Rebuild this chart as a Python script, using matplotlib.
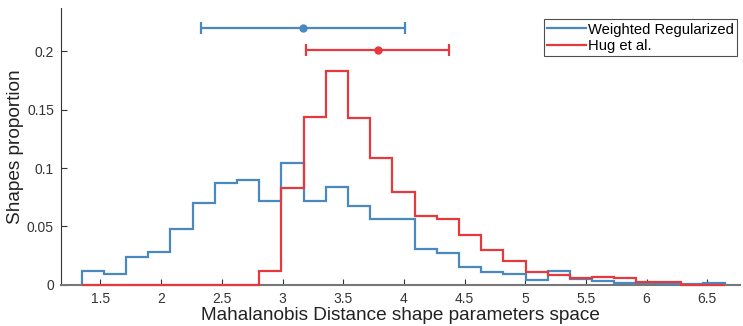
import numpy as np
import matplotlib.pyplot as plt

plt.rcParams['font.family'] = ['Liberation Sans', 'DejaVu Sans']

# histogram bin edges (shared by both series)
edges = np.linspace(1.345, 6.648, 30)

# Weighted Regularized
blue_vals = [0.0122, 0.0094, 0.0242, 0.0282, 0.0481, 0.0698, 0.0869, 0.0895, 0.0720, 0.1040,
             0.0720, 0.0835, 0.0675, 0.0561, 0.0561, 0.0305, 0.0271, 0.0151, 0.0111, 0.0094,
             0.0043, 0.0122, 0.0049, 0.0034, 0.0020, 0.0020, 0.0005, 0.0005, 0.0020]
# Hug et al.
red_vals = [0, 0, 0, 0, 0, 0, 0, 0, 0.0122, 0.0826,
            0.1439, 0.1829, 0.1425, 0.1083, 0.0798, 0.0593, 0.0564, 0.0427, 0.0299, 0.0205,
            0.0111, 0.0083, 0.0060, 0.0066, 0.0057, 0.0026, 0.0026, 0.0, 0.0]

# mean +- std markers
blue_mean, blue_std, blue_y = 3.17, 0.84, 0.2194
red_mean, red_std, red_y = 3.785, 0.59, 0.2009

c_blue = '#4a88c0'
c_red = '#e6393d'
lw = 1.6

fig = plt.figure(figsize=(7.43, 3.26), dpi=100)
ax = fig.add_axes([0.082, 0.126, 0.914, 0.85])

ax.stairs(blue_vals, edges, color=c_blue, lw=lw, label='Weighted Regularized',
          clip_on=False, zorder=3)
ax.stairs(red_vals, edges, color=c_red, lw=lw, label='Hug et al.',
          clip_on=False, zorder=4)

ax.errorbar([blue_mean], [blue_y], xerr=[blue_std], fmt='o', color=c_blue, ms=5,
            lw=lw, capsize=4, capthick=lw)
ax.errorbar([red_mean], [red_y], xerr=[red_std], fmt='o', color=c_red, ms=5,
            lw=lw, capsize=4, capthick=lw)

ax.set_xlim(1.174, 6.77)
ax.set_ylim(0, 0.237)
ax.set_xticks([1.5, 2, 2.5, 3, 3.5, 4, 4.5, 5, 5.5, 6, 6.5])
ax.set_xticklabels(['1.5', '2', '2.5', '3', '3.5', '4', '4.5', '5', '5.5', '6', '6.5'])
ax.set_yticks([0, 0.05, 0.1, 0.15, 0.2])
ax.set_yticklabels(['0', '0.05', '0.1', '0.15', '0.2'])
ax.tick_params(direction='in', length=4, labelsize=10, colors='#333333')
ax.tick_params(axis='x', pad=5)
ax.tick_params(axis='y', pad=5)
ax.spines['top'].set_visible(False)
ax.spines['right'].set_visible(False)
ax.spines['bottom'].set_color('#777777')
ax.spines['bottom'].set_linewidth(1.5)
ax.spines['left'].set_color('#333333')
ax.spines['left'].set_linewidth(0.8)

ax.set_xlabel('Mahalanobis Distance shape parameters space', fontsize=13.7, color='#222222', labelpad=1)
ax.set_ylabel('Shapes proportion', fontsize=13.7, color='#222222', labelpad=2)

leg = ax.legend(loc='upper right', bbox_to_anchor=(0.996, 0.96), fontsize=10.6, frameon=True,
                fancybox=False, edgecolor='#222222', handlelength=2.6, handletextpad=0.15,
                borderpad=0.25, labelspacing=0.15, borderaxespad=0)
leg.get_frame().set_linewidth(0.8)

fig.savefig('out.png', dpi=100)
